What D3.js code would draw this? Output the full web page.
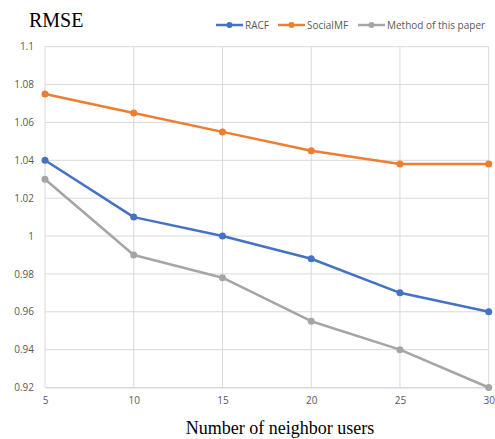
<!DOCTYPE html>
<html><head><meta charset="utf-8">
<script src="https://cdn.jsdelivr.net/npm/d3@7"></script>
<style>body{margin:0;background:#fff}svg{display:block}</style>
</head><body>
<script>
const xValues = [5, 10, 15, 20, 25, 30];
const racf = [1.04, 1.01, 1.00, 0.988, 0.970, 0.960];
const socialMF = [1.075, 1.065, 1.055, 1.045, 1.038, 1.038];
const methodPaper = [1.03, 0.99, 0.978, 0.955, 0.940, 0.920];
const yTicks = [0.92, 0.94, 0.96, 0.98, 1, 1.02, 1.04, 1.06, 1.08, 1.1];
const seriesNames = ["RACF", "SocialMF", "Method of this paper"];
const seriesColors = ["#4472C4", "#ED7D31", "#A5A5A5"];

const W = 495, H = 439;
const svg = d3.select("body").append("svg").attr("width", W).attr("height", H);
const x = d3.scaleLinear().domain([5, 30]).range([45, 488.7]);
const y = d3.scaleLinear().domain([0.92, 1.1]).range([387.5, 46.7]);

// gridlines
const grid = svg.append("g");
grid.selectAll("line.h").data(yTicks).enter().append("line")
  .attr("x1", x(5)).attr("x2", x(30)).attr("y1", d => y(d)).attr("y2", d => y(d))
  .attr("stroke", "#d9d9d9").attr("stroke-width", 1);
grid.selectAll("line.v").data(xValues).enter().append("line")
  .attr("x1", d => x(d)).attr("x2", d => x(d)).attr("y1", y(0.92)).attr("y2", y(1.1))
  .attr("stroke", "#d9d9d9").attr("stroke-width", 1);

// axes
const yAxis = d3.axisLeft(y).tickValues(yTicks).tickSize(0).tickPadding(11).tickFormat(d => d3.format("~g")(d));
const gy = svg.append("g").attr("transform", `translate(${x(5)},0)`).call(yAxis);
gy.select(".domain").remove();
gy.selectAll("text").attr("fill", "#595959").style("font-family", "'Open Sans', sans-serif").style("font-size", "10px");

const xAxis = d3.axisBottom(x).tickValues(xValues).tickSize(0).tickPadding(9);
const gx = svg.append("g").attr("transform", `translate(0,${y(0.92)})`).call(xAxis);
gx.select(".domain").attr("stroke", "#d9d9d9");
gx.selectAll("text").attr("fill", "#595959").style("font-family", "'Open Sans', sans-serif").style("font-size", "10px");

// lines
const data = [racf, socialMF, methodPaper];
const line = d3.line().x((d, i) => x(xValues[i])).y(d => y(d));
data.forEach((s, k) => {
  svg.append("path").datum(s).attr("d", line).attr("fill", "none")
    .attr("stroke", seriesColors[k]).attr("stroke-width", 2.5).attr("stroke-linejoin", "round");
  svg.selectAll(null).data(s).enter().append("circle")
    .attr("cx", (d, i) => x(xValues[i])).attr("cy", d => y(d)).attr("r", 3.5)
    .attr("fill", seriesColors[k]);
});

// title
svg.append("text").attr("x", 29).attr("y", 27).text("RMSE")
  .style("font-family", "'Liberation Serif', 'Times New Roman', serif").style("font-size", "20px").attr("fill", "#000");

// axis title
svg.append("text").attr("x", 280).attr("y", 434).attr("text-anchor", "middle").text("Number of neighbor users")
  .style("font-family", "'Liberation Serif', 'Times New Roman', serif").style("font-size", "18px").attr("fill", "#000");

// legend
const legX = [216, 278, 358];
seriesNames.forEach((n, k) => {
  const g = svg.append("g").attr("transform", `translate(${legX[k]},25)`);
  g.append("line").attr("x1", 0).attr("x2", 27).attr("y1", 0).attr("y2", 0)
    .attr("stroke", seriesColors[k]).attr("stroke-width", 2.5);
  g.append("circle").attr("cx", 13.5).attr("cy", 0).attr("r", 3).attr("fill", seriesColors[k]);
  g.append("text").attr("x", 29).attr("y", 3.5).text(n).attr("fill", "#595959")
    .style("font-family", "'Open Sans', sans-serif").style("font-size", "10px");
});
</script>
</body></html>
